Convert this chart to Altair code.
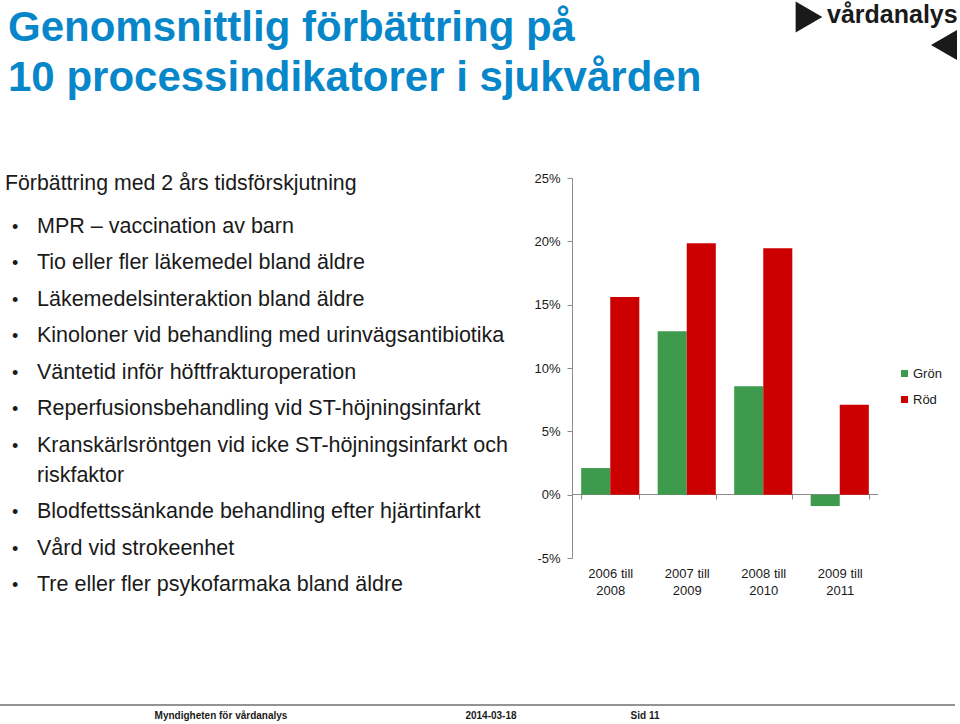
import altair as alt
import pandas as pd

# ---- data ----
periods = ["2006 till 2008", "2007 till 2009", "2008 till 2010", "2009 till 2011"]
gron = [2.1, 12.9, 8.55, -0.9]
rod = [15.6, 19.85, 19.45, 7.1]
series = ["Grön", "Röd"]
colors = ["#3E9A4C", "#CC0000"]
y_ticks = [-5, 0, 5, 10, 15, 20, 25]

title_lines = ["Genomsnittlig förbättring på", "10 processindikatorer i sjukvården"]
subtitle = "Förbättring med 2 års tidsförskjutning"
bullets = [
    ["MPR – vaccination av barn"],
    ["Tio eller fler läkemedel bland äldre"],
    ["Läkemedelsinteraktion bland äldre"],
    ["Kinoloner vid behandling med urinvägsantibiotika"],
    ["Väntetid inför höftfrakturoperation"],
    ["Reperfusionsbehandling vid ST-höjningsinfarkt"],
    ["Kranskärlsröntgen vid icke ST-höjningsinfarkt och", "riskfaktor"],
    ["Blodfettssänkande behandling efter hjärtinfarkt"],
    ["Vård vid strokeenhet"],
    ["Tre eller fler psykofarmaka bland äldre"],
]
footer = ["Myndigheten för vårdanalys", "2014-03-18", "Sid 11"]
logo = "vårdanalys"

rows = []
for p, g, r in zip(periods, gron, rod):
    rows.append({"period": p, "serie": "Grön", "value": g})
    rows.append({"period": p, "serie": "Röd", "value": r})
df = pd.DataFrame(rows)

FONT = "Liberation Sans, Arial, sans-serif"
OX, OY = 572, 178  # plot origin on the page
W, H = 306, 380
AX = "#8c8c8c"
INK = "#1a1a1a"

bars = alt.Chart(df).mark_bar().encode(
    x=alt.X("period:N", sort=periods, title=None,
            scale=alt.Scale(paddingInner=0.24, paddingOuter=0.12),
            axis=alt.Axis(labelExpr="[slice(datum.label,0,9), slice(datum.label,10)]",
                          labelAngle=0, offset=-64, tickBand="extent", tickSize=5,
                          labelPadding=68, labelLineHeight=17, labelFontSize=13,
                          labelFont=FONT, labelColor=INK,
                          domainColor=AX, tickColor=AX)),
    xOffset=alt.XOffset("serie:N", sort=series, scale=alt.Scale(paddingInner=0)),
    y=alt.Y("value:Q", title=None, scale=alt.Scale(domain=[-5, 25], nice=False),
            axis=alt.Axis(values=y_ticks, labelExpr="datum.value + '%'", grid=False,
                          tickSize=5, labelPadding=7, labelFontSize=13, labelFont=FONT,
                          labelColor=INK, domainColor=AX, tickColor=AX)),
    color=alt.Color("serie:N", sort=series,
                    scale=alt.Scale(domain=series, range=colors),
                    legend=alt.Legend(title=None, orient="none", legendX=326, legendY=189,
                                      symbolType="square", symbolSize=49, labelFontSize=13,
                                      labelFont=FONT, labelColor=INK, labelOffset=2,
                                      rowPadding=12, padding=0, symbolStrokeWidth=0)),
)

one = alt.Data(values=[{}])
layers = [bars]

def txt(text, x, y, **kw):
    return alt.Chart(one).mark_text(text=text, align=kw.pop("align", "left"),
                                    baseline="alphabetic", **kw).encode(
        x=alt.value(x - OX), y=alt.value(y - OY))

# title
for i, line in enumerate(title_lines):
    layers.append(txt(line, 8, 41 + i * 50, font=FONT, fontSize=42, fontWeight="bold",
                      color="#0787C9"))
# subtitle
layers.append(txt(subtitle, 5, 190, font=FONT, fontSize=21.3, color=INK))
# bullets
y = 232.5
for item in bullets:
    layers.append(txt("•", 12, y, font=FONT, fontSize=18, color=INK))
    layers.append(txt(item if len(item) > 1 else item[0], 37, y, font=FONT, fontSize=21.5,
                      color=INK, lineHeight=30))
    y += 36.5 + 30 * (len(item) - 1)

# footer
layers.append(alt.Chart(one).mark_rule(color="#6f6f6f", strokeWidth=1.5).encode(
    x=alt.value(-OX), x2=alt.value(955 - OX), y=alt.value(705 - OY)))
for t, cx in zip(footer, [221, 491, 645]):
    layers.append(txt(t, cx, 719, align="center", font=FONT, fontSize=10,
                      fontWeight="bold", color=INK))

# logo
layers.append(txt(logo, 827, 23, font=FONT, fontSize=25, fontWeight="bold", color=INK))
layers.append(alt.Chart(one).mark_point(shape="triangle-right", filled=True, size=950,
                                         color=INK, opacity=1).encode(
    x=alt.value(809 - OX), y=alt.value(17 - OY)))
layers.append(alt.Chart(one).mark_point(shape="triangle-left", filled=True, size=900,
                                         color=INK, opacity=1).encode(
    x=alt.value(944 - OX), y=alt.value(45 - OY)))

chart = alt.layer(*layers).properties(
    width=W, height=H,
    padding={"left": OX, "top": OY, "right": 960 - OX - W, "bottom": 724 - OY - H},
    autosize=alt.AutoSizeParams(type="none"),
    background="white",
).configure_view(strokeWidth=0)

chart.save("out.html", embed_options={"renderer": "svg", "actions": False})
